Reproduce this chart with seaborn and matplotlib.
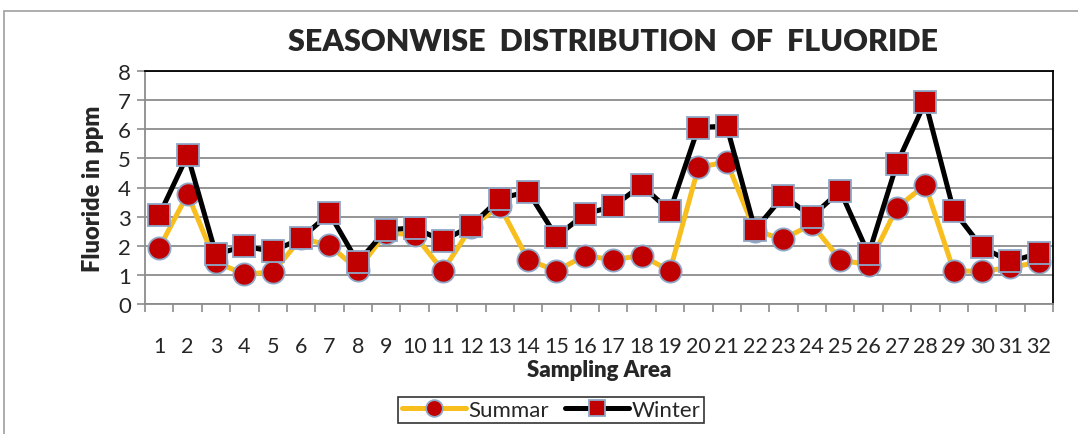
import matplotlib.pyplot as plt
import seaborn as sns
import numpy as np
import pandas as pd
from matplotlib.patches import Rectangle
from matplotlib.ticker import FixedLocator

# values
areas = list(range(1, 33))
summar = [1.92, 3.77, 1.43, 1.03, 1.09, 2.25, 2.02, 1.18, 2.45, 2.37, 1.14,
          2.65, 3.37, 1.52, 1.14, 1.66, 1.52, 1.66, 1.14, 4.69, 4.88, 2.51,
          2.23, 2.74, 1.52, 1.34, 3.31, 4.09, 1.14, 1.12, 1.26, 1.43]
winter = [3.05, 5.11, 1.71, 1.98, 1.81, 2.25, 3.11, 1.43, 2.55, 2.61, 2.17,
          2.69, 3.62, 3.86, 2.31, 3.09, 3.35, 4.08, 3.19, 6.06, 6.11, 2.55,
          3.71, 3.00, 3.89, 1.71, 4.82, 6.94, 3.20, 1.94, 1.46, 1.74]

df = pd.DataFrame({'Area': areas * 2,
                   'Fluoride': summar + winter,
                   'Season': ['Summar'] * 32 + ['Winter'] * 32})

sns.set_style('white')
plt.rcParams['font.family'] = ['Lato', 'DejaVu Sans']

fig = plt.figure(figsize=(10.78, 4.35), dpi=100)
ax = fig.add_axes([145 / 1078, 1 - 305 / 435, 908 / 1078, 233 / 435])

sns.lineplot(data=df, x='Area', y='Fluoride', hue='Season', style='Season',
             palette={'Summar': '#F7BE1E', 'Winter': 'black'},
             markers={'Summar': 'o', 'Winter': 's'}, dashes=False,
             linewidth=3.6, markersize=16, markerfacecolor='#C00000',
             markeredgecolor='#8FA8C8', markeredgewidth=1.3, ax=ax)

ax.set_xlim(0.5, 32.5)
ax.set_ylim(0, 8)
ax.set_yticks(range(0, 9))
ax.yaxis.grid(True, color='#8C8C8C', linewidth=1.3)
ax.set_axisbelow(True)

ax.set_xticks(areas)
ax.set_xticklabels([str(a) for a in areas])
ax.xaxis.set_minor_locator(FixedLocator(np.arange(0.5, 33, 1)))
ax.tick_params(axis='x', which='major', length=0, pad=23, labelsize=15.5)
ax.tick_params(axis='x', which='minor', length=6, color='#8C8C8C', width=1.2,
               direction='out', bottom=True)
ax.tick_params(axis='y', length=6, color='#8C8C8C', width=1.2, labelsize=16,
               left=True, pad=4)

for side in ['left', 'bottom']:
    ax.spines[side].set_color('#8C8C8C')
    ax.spines[side].set_linewidth(1.3)
for side in ['top', 'right']:
    ax.spines[side].set_color('black')
    ax.spines[side].set_linewidth(1.3)

ax.set_xlabel('Sampling Area', fontsize=16, fontweight='heavy', labelpad=2)
ax.set_ylabel('Fluoride in ppm', fontsize=17, fontweight='heavy', labelpad=10)
fig.text(613 / 1078, 1 - 42 / 435, 'SEASONWISE  DISTRIBUTION  OF  FLUORIDE',
         ha='center', va='center', fontsize=22, fontweight='heavy')

leg = ax.legend(loc='center', bbox_to_anchor=(551 / 1078, 1 - 411 / 435),
                bbox_transform=fig.transFigure, ncol=2, frameon=True,
                fancybox=False, edgecolor='black', fontsize=16,
                handlelength=2.9, handletextpad=0.1, columnspacing=0.7,
                borderpad=0.15, markerscale=0.75)
leg.get_frame().set_linewidth(1.2)

fig.patches.append(Rectangle((4 / 1078, -0.1), 1.2, 1 - 12 / 435 + 0.1,
                             transform=fig.transFigure, fill=False,
                             edgecolor='#A0A0A0', linewidth=1.2))

plt.savefig('out.png', dpi=100)
